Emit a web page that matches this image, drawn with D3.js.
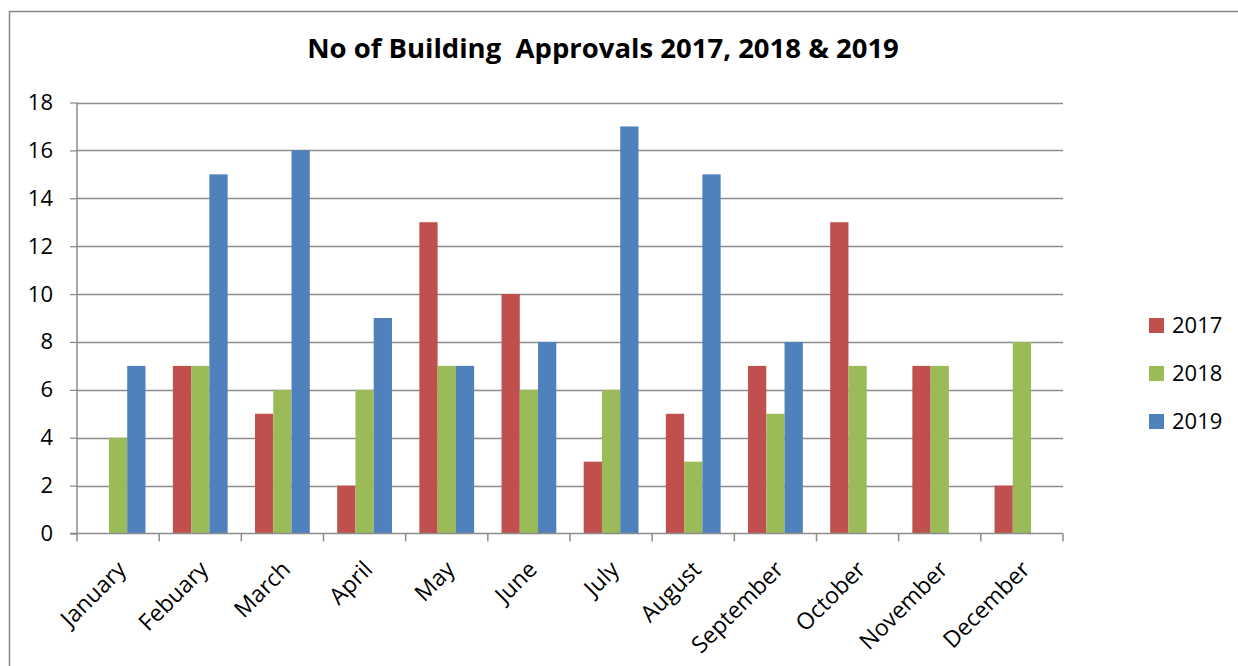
<!DOCTYPE html>
<html><head><meta charset="utf-8">
<script src="https://cdn.jsdelivr.net/npm/d3@7"></script>
<style>body{margin:0;background:#fff}svg{display:block}</style>
</head><body><svg id="c" width="1238" height="666"></svg>
<script>
const categories = ["January","Febuary","March","April","May","June","July","August","September","October","November","December"];
const seriesNames = ["2017","2018","2019"];
const values2017 = [0,7,5,2,13,10,3,5,7,13,7,2];
const values2018 = [4,7,6,6,7,6,6,3,5,7,7,8];
const values2019 = [7,15,16,9,7,8,17,15,8,0,0,0];
const yTicks = [0,2,4,6,8,10,12,14,16,18];
const colors = ["#C0504D","#9BBB59","#4F81BD"];
const title = "No of Building  Approvals 2017, 2018 & 2019";

(function(){
const svg = d3.select("#c");
const font = "'Open Sans', sans-serif";
// frame
svg.append("path").attr("d","M9.5,666 V11.5 H1238").attr("fill","none").attr("stroke","#898989").attr("stroke-width",1.5);

const pL=77, pR=1063, pT=102.5, pB=533.5;
const x = d3.scaleBand().domain(categories).range([pL,pR]);
// Excel gap width 150%: bar = band/4.5
const bw = x.bandwidth()/4.5;
const sx = d3.scaleBand().domain(seriesNames).range([0.75*bw, 3.75*bw]);
const y = d3.scaleLinear().domain([0,18]).range([pB,pT]);

// gridlines
svg.append("g").selectAll("line").data(yTicks.filter(d=>d>0)).join("line")
  .attr("x1",pL).attr("x2",pR).attr("y1",d=>Math.round(y(d))+0.5).attr("y2",d=>Math.round(y(d))+0.5)
  .attr("stroke","#8c8c8c").attr("stroke-width",1.3);

const data = [values2017, values2018, values2019];
seriesNames.forEach((s,i)=>{
  svg.append("g").selectAll("rect").data(categories).join("rect")
    .attr("x",(c)=>x(c)+sx(s)).attr("width",sx.bandwidth())
    .attr("y",(c,j)=>y(data[i][j])).attr("height",(c,j)=>pB-y(data[i][j]))
    .attr("fill",colors[i]);
});

// y axis
const ya = d3.axisLeft(y).tickValues(yTicks).tickSize(7).tickPadding(17);
const gy = svg.append("g").attr("transform",`translate(${pL},0)`).call(ya);
gy.select(".domain").remove();
gy.selectAll(".tick line").attr("stroke","#8c8c8c").attr("stroke-width",1.3);
gy.selectAll(".tick text").attr("font-family",font).attr("font-size",22).attr("fill","#000");
svg.append("line").attr("x1",pL).attr("x2",pL).attr("y1",pT).attr("y2",pB).attr("stroke","#8c8c8c").attr("stroke-width",1.5);

// x axis
svg.append("line").attr("x1",pL-7).attr("x2",pR).attr("y1",pB).attr("y2",pB).attr("stroke","#8c8c8c").attr("stroke-width",1.5);
const edges = categories.map(c=>x(c)).concat([pR]);
svg.append("g").selectAll("line").data(edges).join("line")
  .attr("x1",d=>d).attr("x2",d=>d).attr("y1",pB).attr("y2",pB+8)
  .attr("stroke","#8c8c8c").attr("stroke-width",1.5);
svg.append("g").selectAll("text").data(categories).join("text")
  .attr("transform",c=>`translate(${x(c)+x.bandwidth()/2-2},${pB+26}) rotate(-45)`)
  .attr("text-anchor","end").attr("dy","0.7em")
  .attr("font-family",font).attr("font-size",23).attr("fill","#000").text(c=>c);

// title
svg.append("text").attr("x",603).attr("y",58).attr("text-anchor","middle")
  .attr("font-family",font).attr("font-weight","bold").attr("font-size",27.5).attr("fill","#000")
  .style("white-space","pre").text(title);

// legend
const lg = svg.append("g").selectAll("g").data(seriesNames).join("g")
  .attr("transform",(d,i)=>`translate(1149,${318+i*48})`);
lg.append("rect").attr("width",15).attr("height",15).attr("fill",(d,i)=>colors[i]);
lg.append("text").attr("x",23).attr("y",15).attr("font-family",font).attr("font-size",22).attr("fill","#000").text(d=>d);
})();
</script></body></html>
